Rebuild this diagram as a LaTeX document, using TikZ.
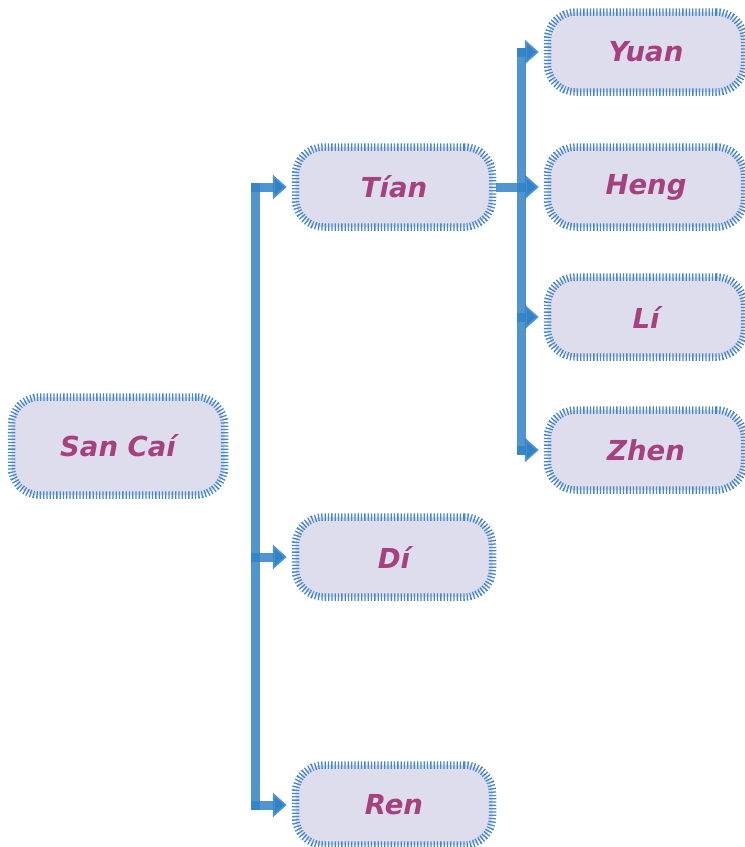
\documentclass[tikz,border=0pt]{standalone}
\usepackage{fontspec}
\setmainfont{DejaVu Sans}
\usetikzlibrary{arrows.meta}
\definecolor{boxfill}{RGB}{222,221,238}
\definecolor{boxline}{RGB}{70,134,202}
\definecolor{txt}{RGB}{164,65,126}
\definecolor{conn}{RGB}{50,130,200}
\tikzset{
  box/.style={rectangle, rounded corners=28pt, fill=boxfill, draw=boxline,
    line width=7.5pt, dash pattern=on 1.3pt off 2pt,
    text=txt, font=\fontsize{27.5}{32}\selectfont\bfseries\itshape,
    minimum width=197pt, minimum height=80pt, inner sep=0pt},
  bigbox/.style={box, minimum width=213pt, minimum height=98pt},
  trunk/.style={draw=conn, draw opacity=0.85, line width=9pt},
  stub/.style={trunk, -{Triangle[length=14pt 0 0,width=24pt 0 0]}, shorten >=5pt}
}
\begin{document}
\begin{tikzpicture}[x=1pt,y=-1pt]
\useasboundingbox (0,0) rectangle (745,847);
\node[bigbox] (san) at (118,446) {San Caí};
\node[box] (tian) at (394,187) {Tían};
\node[box] (di) at (394,557) {Dí};
\node[box] (ren) at (394,805) {Ren};
\node[box] (yuan) at (646,52) {Yuan};
\node[box] (heng) at (646,187) {Heng};
\node[box] (li) at (646,317) {Lí};
\node[box] (zhen) at (646,450) {Zhen};
% first trunk
\coordinate (ta) at (255,182.5);
\coordinate (tb) at (255,809.5);
\coordinate (s1) at (251,187);
\coordinate (s2) at (251,557);
\coordinate (s3) at (251,805);
\draw[trunk] (ta) -- (tb);
\draw[stub] (s1) -- (tian);
\draw[stub] (s2) -- (di);
\draw[stub] (s3) -- (ren);
% second trunk
\coordinate (ua) at (521,47.5);
\coordinate (ub) at (521,454.5);
\coordinate (u1) at (517,52);
\coordinate (u3) at (517,317);
\coordinate (u4) at (517,450);
\draw[trunk] (ua) -- (ub);
\draw[stub] (u1) -- (yuan);
\draw[stub] (tian.east) -- (heng);
\draw[stub] (u3) -- (li);
\draw[stub] (u4) -- (zhen);
\end{tikzpicture}
\end{document}
